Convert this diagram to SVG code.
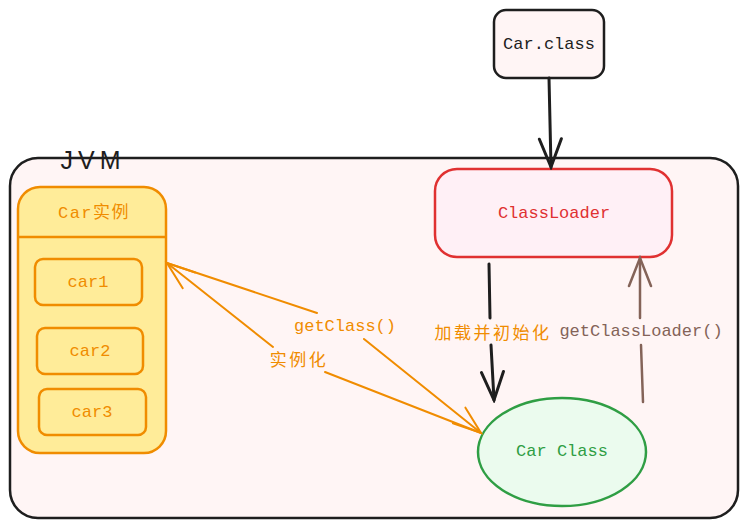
<svg xmlns="http://www.w3.org/2000/svg" width="746" height="527" viewBox="0 0 746 527">
<defs>
<style>
.t{font-family:"Liberation Mono","Noto Sans CJK SC",monospace;font-size:17px;text-anchor:middle;dominant-baseline:central}
.cjk{font-family:"Noto Sans CJK SC","Liberation Sans",sans-serif;font-size:17px;letter-spacing:2.5px;text-anchor:middle;dominant-baseline:central}
.or{fill:#f08c00}
.conn{fill:none;stroke-linecap:round}
</style>
<marker id="ah-k" markerUnits="userSpaceOnUse" markerWidth="34" markerHeight="26" refX="31" refY="13" orient="auto"><path d="M3,2 L31,13 L3,24" fill="none" stroke="#1e1e1e" stroke-width="3" stroke-linecap="round"/></marker>
<marker id="ah-b" markerUnits="userSpaceOnUse" markerWidth="34" markerHeight="26" refX="31" refY="13" orient="auto"><path d="M3,2 L31,13 L3,24" fill="none" stroke="#846358" stroke-width="2.5" stroke-linecap="round"/></marker>
<marker id="ah-o" markerUnits="userSpaceOnUse" markerWidth="34" markerHeight="26" refX="31" refY="13" orient="auto"><path d="M3,3 L31,13 L3,23" fill="none" stroke="#f08c00" stroke-width="2" stroke-linecap="round"/></marker>
</defs>
<rect width="746" height="527" fill="#ffffff"/>
<g id="jvm">
<rect x="10" y="158" width="728" height="360" rx="28" fill="#fff5f5" stroke="#1e1e1e" stroke-width="2.5"/>
<text x="93" y="160" font-family="Liberation Sans, sans-serif" font-size="25" letter-spacing="5" text-anchor="middle" dominant-baseline="central" fill="#1e1e1e">JVM</text>
</g>
<g id="car-class-file">
<rect x="494" y="10" width="110" height="68" rx="12" fill="#fff5f5" stroke="#1e1e1e" stroke-width="2.5"/>
<text class="t" x="549" y="44" fill="#1e1e1e">Car.class</text>
</g>
<g id="classloader">
<rect x="435" y="169" width="237" height="88" rx="22" fill="#fff0f6" stroke="#e03131" stroke-width="2.5"/>
<text class="t" x="554" y="213" fill="#e03131">ClassLoader</text>
</g>
<g id="car-instances">
<rect x="18" y="187" width="148" height="266" rx="22" fill="#ffec99" stroke="#f08c00" stroke-width="2.5"/>
<line x1="18" y1="237" x2="166" y2="237" stroke="#f08c00" stroke-width="2.5"/>
<text class="t or" x="94" y="213" letter-spacing="1.5">Car实例</text>
</g>
<g id="car1">
<rect x="35" y="259" width="107" height="46" rx="8" fill="#ffec99" stroke="#f08c00" stroke-width="2.5"/>
<text class="t or" x="88" y="282">car1</text>
</g>
<g id="car2">
<rect x="37" y="328" width="106" height="46" rx="8" fill="#ffec99" stroke="#f08c00" stroke-width="2.5"/>
<text class="t or" x="90" y="351">car2</text>
</g>
<g id="car3">
<rect x="39" y="389" width="107" height="46" rx="8" fill="#ffec99" stroke="#f08c00" stroke-width="2.5"/>
<text class="t or" x="92" y="412">car3</text>
</g>
<g id="car-class">
<ellipse cx="562" cy="452" rx="84" ry="54" fill="#ebfbee" stroke="#2f9e44" stroke-width="2.5"/>
<text class="t" x="562" y="451" fill="#2f9e44">Car Class</text>
</g>
<g id="connectors">
<path class="conn" d="M549,78 L551,167" stroke="#1e1e1e" stroke-width="3" marker-end="url(#ah-k)"/>
<path class="conn" d="M489,264 L490,318 M491,345 L494,400" stroke="#1e1e1e" stroke-width="3" marker-end="url(#ah-k)"/>
<text class="cjk or" x="493" y="331">加载并初始化</text>
<path class="conn" d="M643,402 L641,345 M640,318 L640,258" stroke="#846358" stroke-width="2.5" marker-end="url(#ah-b)"/>
<text class="t" x="641" y="331" fill="#846358">getClassLoader()</text>
<path class="conn" d="M167,263 L317,313 M364,339 L481,433" stroke="#f08c00" stroke-width="2" marker-end="url(#ah-o)"/>
<text class="t or" x="345" y="326">getClass()</text>
<path class="conn" d="M481,433 L325,372 M273,347 L167,263" stroke="#f08c00" stroke-width="2" marker-end="url(#ah-o)"/>
<text class="cjk or" x="299" y="358">实例化</text>
</g>
</svg>
